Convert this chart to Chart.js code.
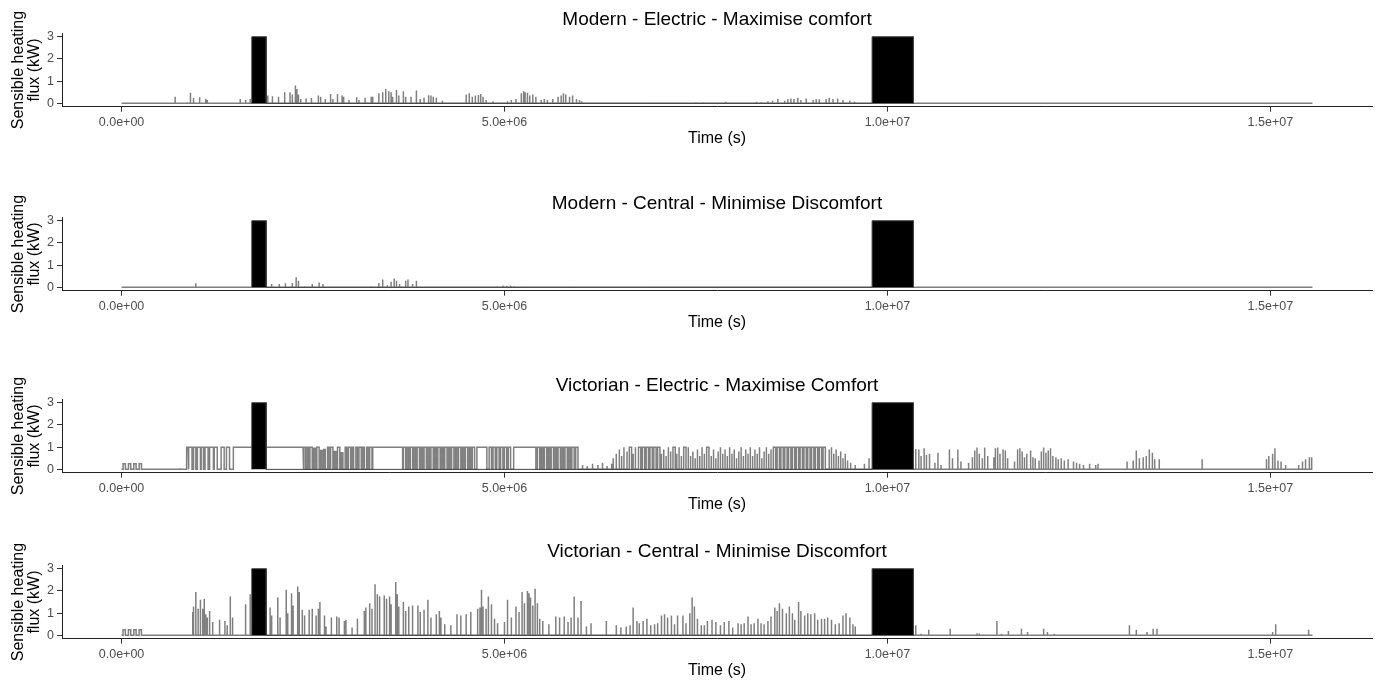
<!DOCTYPE html>
<html>
<head>
<meta charset="utf-8">
<title>Sensible heating flux</title>
<script src="https://cdn.jsdelivr.net/npm/chart.js@4.4.1/dist/chart.umd.min.js"></script>
<style>
  html, body { margin: 0; padding: 0; background: #fff; overflow: hidden; }
  #wrap { position: relative; width: 1378px; height: 680px; }
  .panel { position: absolute; left: 0; width: 1378px; height: 150px; }
</style>
</head>
<body>
<div id="wrap">
  <div class="panel" style="top:0px"><canvas id="c1" width="1378" height="150"></canvas></div>
  <div class="panel" style="top:184px"><canvas id="c2" width="1378" height="150"></canvas></div>
  <div class="panel" style="top:366px"><canvas id="c3" width="1378" height="150"></canvas></div>
  <div class="panel" style="top:532px"><canvas id="c4" width="1378" height="150"></canvas></div>
</div>
<script>
// axis settings
const xTickValues = [0, 5e6, 1e7, 1.5e7];
const xTickLabels = ["0.0e+00", "5.0e+06", "1.0e+07", "1.5e+07"];
const yTickValues = [0, 1, 2, 3];
const simEnd = 15.55e6;

// unoccupied periods (black boxes), same in every run
const awayStart = [1.70e6, 9.80e6];
const awayEnd = [1.89e6, 10.34e6];
const awayKw = [3, 3];

// Modern - Electric - Maximise comfort: short heating spikes
const meTime = [0.70e6, 0.86e6, 0.90e6, 0.94e6, 1.02e6, 1.10e6, 1.12e6, 1.45e6, 1.55e6, 1.62e6, 1.68e6,
  1.91e6, 1.97e6, 2.05e6, 2.13e6, 2.20e6, 2.23e6, 2.27e6, 2.29e6, 2.31e6, 2.34e6, 2.41e6, 2.48e6, 2.57e6,
  2.60e6, 2.66e6, 2.73e6, 2.76e6, 2.82e6, 2.88e6, 2.90e6, 2.97e6, 3.07e6, 3.10e6, 3.18e6, 3.26e6, 3.28e6,
  3.36e6, 3.41e6, 3.45e6, 3.49e6, 3.52e6, 3.54e6, 3.59e6, 3.62e6, 3.68e6, 3.71e6, 3.78e6, 3.85e6, 3.90e6,
  3.95e6, 4.01e6, 4.04e6, 4.07e6, 4.11e6, 4.19e6, 4.50e6, 4.54e6, 4.58e6, 4.62e6, 4.66e6, 4.69e6, 4.72e6,
  4.76e6, 4.85e6, 5.04e6, 5.09e6, 5.15e6, 5.22e6, 5.25e6, 5.27e6, 5.30e6, 5.33e6, 5.37e6, 5.41e6, 5.48e6,
  5.52e6, 5.56e6, 5.63e6, 5.70e6, 5.74e6, 5.77e6, 5.80e6, 5.85e6, 5.89e6, 5.94e6, 5.98e6, 6.01e6, 7.50e6,
  7.55e6, 7.59e6, 7.89e6, 8.29e6, 8.35e6, 8.44e6, 8.50e6, 8.57e6, 8.66e6, 8.70e6, 8.74e6, 8.78e6, 8.83e6,
  8.87e6, 8.94e6, 9.03e6, 9.07e6, 9.11e6, 9.20e6, 9.24e6, 9.29e6, 9.35e6, 9.42e6, 9.51e6, 9.57e6];
const meKw = [0.30, 0.05, 0.48, 0.24, 0.28, 0.21, 0.15, 0.03, 0.20, 0.15, 0.20,
  0.35, 0.32, 0.30, 0.50, 0.50, 0.40, 0.80, 0.65, 0.40, 0.20, 0.22, 0.24, 0.35,
  0.30, 0.20, 0.42, 0.20, 0.42, 0.35, 0.30, 0.15, 0.28, 0.15, 0.25, 0.30, 0.30,
  0.45, 0.50, 0.65, 0.55, 0.50, 0.30, 0.60, 0.35, 0.55, 0.30, 0.30, 0.58, 0.20,
  0.25, 0.37, 0.35, 0.30, 0.25, 0.12, 0.40, 0.45, 0.30, 0.35, 0.38, 0.42, 0.30,
  0.15, 0.10, 0.10, 0.15, 0.20, 0.45, 0.55, 0.50, 0.48, 0.35, 0.40, 0.30, 0.15,
  0.20, 0.15, 0.20, 0.30, 0.35, 0.45, 0.40, 0.30, 0.35, 0.20, 0.15, 0.10, 0.05,
  0.04, 0.05, 0.07, 0.07, 0.05, 0.10, 0.12, 0.20, 0.12, 0.20, 0.22, 0.20, 0.25,
  0.15, 0.22, 0.15, 0.20, 0.18, 0.20, 0.25, 0.20, 0.22, 0.15, 0.12, 0.08];

// Modern - Central - Minimise Discomfort
const mcTime = [0.97e6, 1.07e6, 1.96e6, 2.06e6, 2.14e6, 2.23e6, 2.28e6, 2.31e6, 2.39e6, 2.49e6, 2.58e6,
  2.63e6, 3.26e6, 3.36e6, 3.41e6, 3.47e6, 3.52e6, 3.56e6, 3.59e6, 3.63e6, 3.71e6, 3.74e6, 3.80e6, 3.85e6,
  4.90e6, 4.98e6, 5.03e6, 5.08e6, 5.13e6];
const mcKw = [0.18, 0.03, 0.15, 0.15, 0.18, 0.20, 0.45, 0.30, 0.05, 0.15, 0.22,
  0.15, 0.05, 0.20, 0.35, 0.10, 0.25, 0.40, 0.30, 0.15, 0.30, 0.35, 0.15, 0.30,
  0.05, 0.08, 0.06, 0.08, 0.05];

// Victorian - Electric - Maximise Comfort: on/off heater cycles and spikes
const veOn = [0.02e6, 0.09e6, 0.16e6, 0.23e6, 0.76e6,
  0.85e6, 0.88e6, 0.94e6, 0.99e6, 1.04e6, 1.09e6, 1.15e6, 1.21e6, 1.30e6, 1.37e6, 1.46e6,
  2.38e6, 2.42e6, 2.46e6, 2.51e6, 2.55e6, 2.60e6, 2.64e6, 2.69e6, 2.73e6, 2.78e6, 2.82e6, 2.87e6, 2.92e6,
  2.96e6, 3.01e6, 3.06e6, 3.10e6, 3.15e6, 3.20e6, 3.24e6, 3.28e6,
  3.68e6, 3.73e6, 3.77e6, 3.82e6, 3.86e6, 3.91e6, 3.95e6, 4.00e6, 4.04e6, 4.09e6, 4.13e6, 4.18e6, 4.22e6,
  4.27e6, 4.31e6, 4.36e6, 4.40e6, 4.45e6, 4.49e6, 4.54e6, 4.58e6, 4.64e6, 4.80e6, 4.85e6, 4.90e6, 4.95e6,
  5.00e6, 5.05e6, 5.12e6, 5.43e6, 5.48e6, 5.52e6, 5.57e6, 5.61e6, 5.66e6, 5.70e6, 5.75e6, 5.79e6, 5.84e6,
  5.88e6, 5.93e6, 6.02e6, 6.08e6, 6.15e6, 6.22e6, 6.28e6, 6.34e6, 6.40e6,
  6.42e6, 6.46e6, 6.50e6, 6.53e6, 6.56e6, 6.60e6, 6.63e6, 6.68e6, 6.71e6, 6.75e6, 6.80e6, 6.85e6, 6.90e6,
  6.95e6, 7.00e6, 7.05e6, 7.08e6, 7.11e6, 7.14e6, 7.17e6, 7.20e6, 7.25e6, 7.28e6, 7.31e6, 7.34e6, 7.40e6,
  7.43e6, 7.46e6, 7.49e6, 7.52e6, 7.55e6, 7.58e6, 7.61e6, 7.64e6, 7.70e6, 7.73e6, 7.76e6, 7.79e6, 7.82e6,
  7.85e6, 7.88e6, 7.91e6, 7.94e6, 7.97e6, 8.00e6, 8.03e6, 8.06e6, 8.09e6, 8.12e6, 8.15e6, 8.18e6, 8.21e6,
  8.24e6, 8.27e6, 8.30e6, 8.33e6, 8.36e6, 8.39e6, 8.42e6, 8.45e6, 8.48e6,
  8.51e6, 8.56e6, 8.61e6, 8.66e6, 8.71e6, 8.76e6, 8.81e6, 8.86e6, 8.91e6, 8.96e6, 9.01e6, 9.06e6, 9.11e6,
  9.16e6, 9.24e6, 9.27e6, 9.30e6, 9.33e6, 9.36e6, 9.39e6, 9.42e6, 9.45e6, 9.48e6, 9.52e6, 9.58e6, 9.70e6,
  9.76e6,
  10.37e6, 10.41e6, 10.44e6, 10.48e6, 10.51e6, 10.55e6, 10.62e6, 10.66e6, 10.70e6, 10.81e6, 10.85e6,
  10.92e6, 10.96e6, 11.06e6, 11.11e6, 11.14e6, 11.17e6, 11.20e6, 11.24e6, 11.27e6, 11.31e6, 11.39e6,
  11.41e6, 11.44e6, 11.47e6, 11.51e6, 11.54e6, 11.57e6, 11.66e6, 11.70e6, 11.73e6, 11.76e6, 11.79e6,
  11.82e6, 11.87e6, 11.90e6, 11.93e6, 11.98e6, 12.01e6, 12.04e6, 12.07e6, 12.10e6, 12.13e6, 12.16e6,
  12.20e6, 12.23e6, 12.27e6, 12.31e6, 12.36e6, 12.43e6, 12.47e6, 12.51e6, 12.56e6, 12.64e6, 12.72e6,
  12.75e6, 13.13e6, 13.21e6, 13.25e6, 13.29e6, 13.34e6, 13.38e6, 13.42e6, 13.46e6, 13.49e6, 13.55e6,
  14.11e6, 14.95e6, 14.98e6, 15.03e6, 15.06e6, 15.10e6, 15.14e6, 15.20e6, 15.37e6, 15.42e6, 15.46e6,
  15.51e6, 15.54e6];
const veOff = [0.05e6, 0.12e6, 0.19e6, 0.26e6, 0.76e6,
  0.87e6, 0.92e6, 0.97e6, 1.03e6, 1.07e6, 1.13e6, 1.20e6, 1.25e6, 1.34e6, 1.41e6, 2.37e6,
  2.40e6, 2.44e6, 2.49e6, 2.53e6, 2.58e6, 2.62e6, 2.66e6, 2.71e6, 2.76e6, 2.80e6, 2.85e6, 2.89e6, 2.94e6,
  2.99e6, 3.03e6, 3.08e6, 3.13e6, 3.17e6, 3.22e6, 3.27e6, 3.67e6,
  3.71e6, 3.75e6, 3.80e6, 3.84e6, 3.89e6, 3.93e6, 3.98e6, 4.02e6, 4.07e6, 4.11e6, 4.16e6, 4.20e6, 4.25e6,
  4.29e6, 4.34e6, 4.38e6, 4.43e6, 4.47e6, 4.52e6, 4.56e6, 4.61e6, 4.77e6, 4.83e6, 4.88e6, 4.93e6, 4.98e6,
  5.03e6, 5.08e6, 5.41e6, 5.46e6, 5.50e6, 5.55e6, 5.59e6, 5.64e6, 5.68e6, 5.73e6, 5.77e6, 5.82e6, 5.86e6,
  5.91e6, 5.96e6, 6.02e6, 6.08e6, 6.15e6, 6.22e6, 6.28e6, 6.34e6, 6.40e6,
  6.42e6, 6.46e6, 6.50e6, 6.53e6, 6.56e6, 6.60e6, 6.66e6, 6.68e6, 6.71e6, 6.78e6, 6.83e6, 6.88e6, 6.93e6,
  6.98e6, 7.03e6, 7.05e6, 7.08e6, 7.11e6, 7.14e6, 7.17e6, 7.23e6, 7.25e6, 7.28e6, 7.31e6, 7.37e6, 7.40e6,
  7.43e6, 7.46e6, 7.49e6, 7.52e6, 7.55e6, 7.58e6, 7.61e6, 7.67e6, 7.70e6, 7.73e6, 7.76e6, 7.79e6, 7.82e6,
  7.85e6, 7.88e6, 7.91e6, 7.94e6, 7.97e6, 8.00e6, 8.03e6, 8.06e6, 8.09e6, 8.12e6, 8.15e6, 8.18e6, 8.21e6,
  8.24e6, 8.27e6, 8.30e6, 8.33e6, 8.36e6, 8.39e6, 8.42e6, 8.45e6, 8.48e6,
  8.54e6, 8.59e6, 8.64e6, 8.69e6, 8.74e6, 8.79e6, 8.84e6, 8.89e6, 8.94e6, 8.99e6, 9.04e6, 9.09e6, 9.14e6,
  9.19e6, 9.24e6, 9.27e6, 9.30e6, 9.33e6, 9.36e6, 9.39e6, 9.42e6, 9.45e6, 9.48e6, 9.52e6, 9.58e6, 9.70e6,
  9.76e6,
  10.37e6, 10.41e6, 10.44e6, 10.48e6, 10.51e6, 10.55e6, 10.62e6, 10.66e6, 10.70e6, 10.81e6, 10.85e6,
  10.92e6, 10.96e6, 11.06e6, 11.11e6, 11.14e6, 11.17e6, 11.20e6, 11.24e6, 11.27e6, 11.31e6, 11.39e6,
  11.41e6, 11.44e6, 11.47e6, 11.51e6, 11.54e6, 11.57e6, 11.66e6, 11.70e6, 11.73e6, 11.76e6, 11.79e6,
  11.82e6, 11.87e6, 11.90e6, 11.93e6, 11.98e6, 12.01e6, 12.04e6, 12.07e6, 12.10e6, 12.13e6, 12.16e6,
  12.20e6, 12.23e6, 12.27e6, 12.31e6, 12.36e6, 12.43e6, 12.47e6, 12.51e6, 12.56e6, 12.64e6, 12.72e6,
  12.75e6, 13.13e6, 13.21e6, 13.25e6, 13.29e6, 13.34e6, 13.38e6, 13.42e6, 13.46e6, 13.49e6, 13.55e6,
  14.11e6, 14.95e6, 14.98e6, 15.03e6, 15.06e6, 15.10e6, 15.14e6, 15.20e6, 15.37e6, 15.42e6, 15.46e6,
  15.51e6, 15.54e6];
const veKw = [0.25, 0.25, 0.25, 0.25, 0.05,
  1, 1, 1, 1, 1, 1, 1, 1, 1, 1, 1,
  1, 1, 1, 0.95, 1, 0.85, 0.9, 1, 1, 0.8, 1, 0.75, 1,
  1, 1, 1, 1, 1, 1, 1, 1,
  1, 1, 1, 1, 1, 1, 1, 1, 1, 1, 1, 1, 1,
  1, 1, 1, 1, 1, 1, 1, 1, 1, 1, 1, 1, 1,
  1, 1, 1, 1, 1, 1, 1, 1, 1, 1, 1, 1, 1,
  1, 1, 0.2, 0.15, 0.25, 0.2, 0.3, 0.15, 0.25,
  0.5, 0.7, 0.9, 0.6, 1.0, 0.8, 1, 0.7, 1.0, 1, 1, 1, 1,
  1, 1, 0.7, 0.9, 0.6, 1.0, 0.8, 1, 0.7, 1.0, 0.6, 1, 1.0,
  0.6, 0.8, 0.5, 0.9, 0.6, 1.0, 0.7, 1, 0.6, 0.9, 0.5, 0.8, 1.0,
  0.7, 0.9, 0.6, 1.0, 0.7, 0.9, 0.5, 0.8, 1.0, 0.6, 0.9, 0.7, 1.0,
  0.6, 0.9, 0.7, 1.0, 0.5, 0.8, 1.0, 0.7, 0.9,
  1, 1, 1, 1, 1, 1, 1, 1, 1, 1, 1, 1, 1,
  1, 0.9, 1.0, 0.7, 0.9, 0.6, 0.8, 0.5, 0.7, 0.4, 0.3, 0.2, 0.25,
  0.5,
  0.92, 0.9, 0.6, 0.95, 0.65, 0.7, 0.3, 0.75, 0.2, 0.9, 0.5,
  0.9, 0.35, 0.3, 0.55, 0.85, 0.98, 0.7, 0.5, 0.98, 0.6, 0.55,
  0.95, 0.98, 0.7, 0.9, 0.85, 0.5, 0.35, 0.9, 0.95, 0.8, 0.55,
  0.7, 0.85, 0.55, 0.5, 0.4, 0.8, 0.98, 0.75, 0.85, 0.95, 0.6,
  0.55, 0.45, 0.5, 0.4, 0.45, 0.35, 0.3, 0.25, 0.2, 0.25, 0.2,
  0.25, 0.35, 0.4, 0.85, 0.5, 0.55, 0.6, 0.9, 0.75, 0.45, 0.45,
  0.45, 0.45, 0.6, 0.7, 0.95, 0.4, 0.35, 0.2, 0.2, 0.35, 0.45,
  0.55, 0.55];

// Victorian - Central - Minimise Discomfort
const vcOn = [0.02e6, 0.09e6, 0.16e6, 0.23e6];
const vcOff = [0.05e6, 0.12e6, 0.19e6, 0.26e6];
const vcOnKw = [0.25, 0.25, 0.25, 0.25];
const vcTime = [0.93e6, 0.94e6, 0.97e6, 1.00e6, 1.03e6, 1.06e6, 1.08e6, 1.10e6, 1.12e6, 1.15e6, 1.19e6,
  1.28e6, 1.35e6, 1.38e6, 1.42e6, 1.45e6, 1.62e6, 1.68e6, 1.94e6, 1.96e6, 2.04e6, 2.07e6, 2.15e6, 2.17e6,
  2.22e6, 2.24e6, 2.30e6, 2.32e6, 2.36e6, 2.39e6, 2.45e6, 2.49e6, 2.54e6, 2.57e6, 2.59e6, 2.65e6, 2.67e6,
  2.74e6, 2.81e6, 2.84e6, 2.91e6, 2.93e6, 3.01e6, 3.08e6, 3.17e6, 3.19e6, 3.24e6, 3.27e6, 3.31e6, 3.34e6,
  3.37e6, 3.43e6, 3.46e6, 3.50e6, 3.52e6, 3.58e6, 3.60e6, 3.62e6, 3.68e6, 3.71e6, 3.75e6, 3.80e6, 3.87e6,
  3.90e6, 3.95e6, 4.00e6, 4.04e6, 4.11e6, 4.15e6, 4.17e6, 4.22e6, 4.30e6, 4.38e6, 4.43e6, 4.50e6, 4.56e6,
  4.65e6, 4.68e6, 4.70e6, 4.72e6, 4.76e6, 4.79e6, 4.83e6, 4.87e6, 4.91e6, 5.00e6, 5.04e6, 5.09e6, 5.15e6,
  5.19e6, 5.23e6, 5.26e6, 5.30e6, 5.32e6, 5.34e6, 5.37e6, 5.40e6, 5.43e6, 5.46e6, 5.50e6, 5.58e6, 5.67e6,
  5.72e6, 5.78e6, 5.83e6, 5.87e6, 5.91e6, 5.96e6, 6.00e6, 6.07e6, 6.13e6, 6.33e6, 6.46e6, 6.52e6, 6.59e6,
  6.64e6, 6.68e6, 6.73e6, 6.76e6, 6.81e6, 6.86e6, 6.91e6, 6.96e6, 7.00e6, 7.05e6, 7.09e6, 7.13e6, 7.18e6,
  7.22e6, 7.26e6, 7.33e6, 7.37e6, 7.42e6, 7.45e6, 7.48e6, 7.52e6, 7.57e6, 7.61e6, 7.65e6, 7.71e6, 7.76e6,
  7.82e6, 7.87e6, 7.93e6, 7.98e6, 8.05e6, 8.09e6, 8.13e6, 8.18e6, 8.22e6, 8.26e6, 8.31e6, 8.35e6, 8.39e6,
  8.44e6, 8.48e6, 8.53e6, 8.56e6, 8.59e6, 8.63e6, 8.68e6, 8.72e6, 8.76e6, 8.79e6, 8.84e6, 8.87e6, 8.92e6,
  8.96e6, 9.00e6, 9.05e6, 9.09e6, 9.14e6, 9.18e6, 9.22e6, 9.27e6, 9.32e6, 9.37e6, 9.42e6, 9.46e6, 9.51e6,
  9.55e6, 9.58e6, 10.37e6, 10.44e6, 10.54e6, 10.82e6, 11.17e6, 11.20e6, 11.43e6, 11.49e6, 11.58e6, 11.75e6,
  11.83e6, 12.04e6, 12.09e6, 12.18e6, 13.16e6, 13.25e6, 13.39e6, 13.47e6, 13.52e6, 15.03e6, 15.07e6,
  15.50e6];
const vcKw = [1.05, 1.30, 1.95, 1.20, 1.60, 1.20, 1.65, 0.95, 0.80, 1.10, 0.60,
  0.70, 0.65, 0.45, 1.75, 0.80, 1.40, 1.85, 1.25, 0.90, 1.70, 0.80, 2.05, 1.00,
  1.90, 1.35, 2.20, 1.95, 1.15, 0.90, 1.15, 1.20, 0.90, 1.20, 1.50, 0.90, 0.40,
  0.80, 0.85, 0.80, 0.65, 0.70, 0.35, 0.75, 1.10, 1.25, 1.45, 1.20, 2.30, 1.85,
  1.75, 1.80, 1.65, 1.75, 1.40, 2.40, 1.85, 1.30, 1.50, 1.10, 1.30, 1.35, 1.35,
  1.05, 1.15, 1.60, 0.80, 0.95, 1.10, 0.80, 0.50, 0.45, 0.95, 0.90, 0.95, 1.05,
  1.20, 1.25, 2.05, 1.30, 1.20, 1.75, 1.40, 0.75, 0.55, 0.60, 1.60, 0.80, 1.30,
  1.05, 1.95, 1.45, 2.00, 1.90, 1.70, 1.35, 2.10, 1.45, 0.75, 0.65, 0.50, 0.85,
  0.80, 0.85, 0.60, 0.80, 1.75, 0.80, 1.55, 0.40, 0.55, 0.65, 0.45, 0.35, 0.40,
  0.45, 1.25, 0.65, 0.55, 0.65, 0.75, 0.45, 0.50, 0.55, 0.90, 0.95, 0.80, 0.90,
  0.50, 0.90, 0.90, 0.55, 1.00, 1.70, 1.30, 0.75, 0.45, 0.45, 0.65, 0.70, 0.60,
  0.45, 0.60, 0.65, 0.35, 0.55, 0.50, 0.55, 0.85, 0.50, 0.55, 0.75, 0.55, 0.50,
  0.65, 0.85, 1.25, 1.10, 1.45, 1.20, 1.00, 1.30, 1.00, 0.70, 1.50, 1.10, 0.90,
  1.00, 0.95, 1.00, 0.70, 0.75, 0.75, 0.80, 0.70, 0.50, 0.55, 0.90, 1.00, 0.80,
  0.50, 0.40, 0.45, 0.07, 0.25, 0.30, 0.10, 0.08, 0.65, 0.07, 0.20, 0.30,
  0.15, 0.30, 0.15, 0.07, 0.45, 0.25, 0.15, 0.30, 0.30, 0.15, 0.50,
  0.25];

Chart.defaults.font.family = "'Liberation Sans', Arial, Helvetica, sans-serif";
Chart.defaults.color = "#4d4d4d";

// turn heating periods into a step trace that returns to zero between events
function fluxTrace(on, off, kw) {
  const ev = on.map((t, i) => [t, off[i], kw[i]]).sort((a, b) => a[0] - b[0]);
  const pts = [{ x: 0, y: 0 }];
  ev.forEach(([a, b, v]) => {
    pts.push({ x: a, y: 0 }, { x: a, y: v }, { x: b, y: v }, { x: b, y: 0 });
  });
  pts.push({ x: simEnd, y: 0 });
  return pts;
}

function awayBoxes() {
  const pts = [];
  awayStart.forEach((a, i) => {
    pts.push({ x: a, y: 0 }, { x: a, y: awayKw[i] }, { x: awayEnd[i], y: awayKw[i] }, { x: awayEnd[i], y: 0 });
  });
  return pts;
}

function drawPanel(id, title, trace) {
  new Chart(document.getElementById(id), {
    type: "line",
    data: {
      datasets: [
        { data: awayBoxes(), fill: "origin", backgroundColor: "#000", borderColor: "#444",
          borderWidth: 1, pointRadius: 0, tension: 0, order: 0 },
        { data: trace, fill: false, borderColor: "#7f7f7f", borderWidth: 1.5,
          pointRadius: 0, tension: 0, order: 1 }
      ]
    },
    options: {
      responsive: false,
      animation: false,
      events: [],
      layout: { padding: { left: 0, right: 6, top: 0, bottom: 0 } },
      plugins: {
        legend: { display: false },
        tooltip: { enabled: false },
        title: {
          display: true, text: title, fullSize: false, color: "#000",
          font: { size: 19, weight: "normal" },
          padding: { top: 8, bottom: 2.6 }
        }
      },
      scales: {
        x: {
          type: "linear", min: -0.7775e6, max: 16.3275e6,
          afterBuildTicks: s => { s.ticks = xTickValues.map(v => ({ value: v })); },
          afterFit: s => { s.height = 43.3; },
          ticks: { callback: (v, i) => xTickLabels[i], font: { size: 12.5 }, color: "#4d4d4d",
                   padding: 3, maxRotation: 0, autoSkip: false },
          grid: { drawOnChartArea: false, drawTicks: true, tickLength: 5, color: "#333" },
          border: { display: true, color: "#222", width: 1 },
          title: { display: true, text: "Time (s)", color: "#000", font: { size: 16 },
                   padding: { top: 0, bottom: 2 } }
        },
        y: {
          type: "linear", min: -0.15, max: 3.15,
          afterBuildTicks: s => { s.ticks = yTickValues.map(v => ({ value: v })); },
          afterFit: s => { s.width = 62; },
          ticks: { font: { size: 12.5 }, color: "#4d4d4d", padding: 3 },
          grid: { drawOnChartArea: false, drawTicks: true, tickLength: 5, color: "#333" },
          border: { display: true, color: "#222", width: 1 },
          title: { display: true, text: ["Sensible heating", "flux (kW)"], color: "#000",
                   font: { size: 16, lineHeight: 1.0 }, padding: { top: 11, bottom: 0 } }
        }
      }
    }
  });
}

drawPanel("c1", "Modern - Electric - Maximise comfort", fluxTrace(meTime, meTime, meKw));
drawPanel("c2", "Modern - Central - Minimise Discomfort", fluxTrace(mcTime, mcTime, mcKw));
drawPanel("c3", "Victorian - Electric - Maximise Comfort", fluxTrace(veOn, veOff, veKw));
drawPanel("c4", "Victorian - Central - Minimise Discomfort",
  fluxTrace(vcOn.concat(vcTime), vcOff.concat(vcTime), vcOnKw.concat(vcKw)));
</script>
</body>
</html>
